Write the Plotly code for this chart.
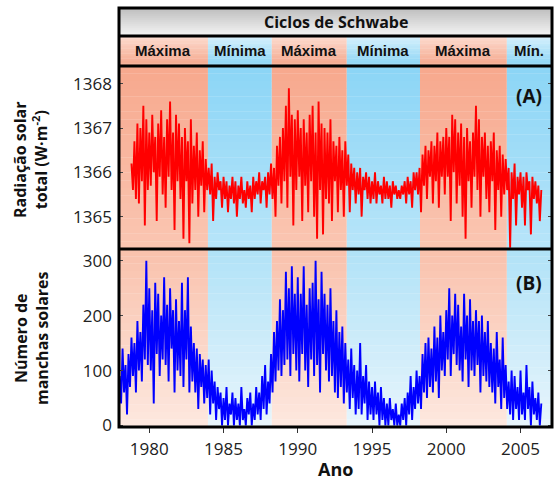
import numpy as np
import plotly.graph_objects as go

# ---------------- data ----------------
tsi_start, sun_start, step = 1978.8, 1978.0, 0.1

tsi = [
    1366.2, 1365.6,
    1366.7, 1365.4, 1367.1, 1365.3, 1367.0, 1365.8, 1367.5, 1364.8, 1367.2, 1365.6,
    1366.9, 1365.7, 1367.3, 1366.0, 1366.8, 1364.9, 1367.1, 1365.9, 1367.4, 1365.5,
    1366.8, 1365.2, 1367.2, 1365.9, 1367.6, 1365.6, 1366.9, 1364.7, 1367.3, 1365.8,
    1367.1, 1365.4, 1366.8, 1364.5, 1367.0, 1365.8, 1366.7, 1364.4, 1367.2, 1365.3,
    1366.6, 1365.6, 1366.9, 1365.0, 1366.5, 1365.7, 1366.7, 1365.1, 1366.3, 1365.6,
    1366.1, 1365.5, 1366.2, 1364.9, 1365.9, 1365.4, 1366.0, 1365.6, 1365.8, 1365.2,
    1365.9, 1365.4, 1365.8, 1365.1, 1365.7, 1365.4, 1365.9, 1365.3, 1365.8, 1365.0,
    1365.7, 1365.4, 1365.9, 1365.3, 1365.6, 1365.2, 1365.8, 1365.4, 1365.7, 1365.1,
    1365.9, 1365.4, 1365.8, 1365.5, 1366.0, 1365.3, 1365.8, 1365.6, 1365.9, 1365.2,
    1366.0, 1365.5, 1366.2, 1365.4, 1366.1, 1365.0, 1366.6, 1365.7, 1366.8, 1365.3,
    1367.0, 1365.8, 1367.5, 1365.2, 1367.9, 1365.9, 1367.3, 1364.8, 1367.2, 1365.6,
    1367.4, 1365.9, 1367.0, 1364.9, 1367.2, 1365.7, 1366.9, 1365.1, 1367.3, 1365.8,
    1367.5, 1365.0, 1366.9, 1364.5, 1367.6, 1365.6, 1367.1, 1364.6, 1367.0, 1365.4,
    1366.9, 1365.3, 1367.2, 1364.9, 1366.7, 1365.8, 1366.6, 1365.1, 1366.8, 1365.6,
    1366.5, 1365.0, 1366.7, 1365.7, 1366.4, 1365.1, 1366.2, 1365.6, 1366.1, 1365.3,
    1366.0, 1365.5, 1366.1, 1365.0, 1365.9, 1365.6, 1366.0, 1365.4, 1365.9, 1365.3,
    1365.8, 1365.4, 1366.0, 1365.3, 1365.8, 1365.5, 1365.7, 1365.3, 1365.9, 1365.4,
    1365.8, 1365.4, 1365.7, 1365.2, 1365.8, 1365.5, 1365.7, 1365.4, 1365.6, 1365.4,
    1365.7, 1365.5, 1365.8, 1365.3, 1365.9, 1365.5, 1365.8, 1365.2, 1366.0, 1365.6,
    1366.0, 1365.5, 1366.1, 1365.1, 1366.4, 1365.7, 1366.6, 1365.4, 1366.5, 1365.9,
    1366.7, 1365.3, 1366.6, 1365.8, 1366.9, 1365.2, 1366.7, 1365.9, 1366.8, 1365.5,
    1367.0, 1365.9, 1366.8, 1364.9, 1367.3, 1366.0, 1367.2, 1365.3, 1366.9, 1365.7,
    1367.1, 1365.0, 1366.8, 1364.5, 1367.0, 1365.8, 1366.7, 1365.2, 1366.9, 1365.9,
    1367.5, 1365.6, 1367.2, 1365.0, 1366.8, 1365.9, 1366.9, 1365.4, 1366.6, 1365.1,
    1366.7, 1365.8, 1366.9, 1364.7, 1366.5, 1365.6, 1366.6, 1365.0, 1366.4, 1365.5,
    1366.3, 1365.6, 1366.1, 1364.3, 1366.0, 1365.4, 1366.2, 1364.8, 1365.9, 1365.5,
    1366.0, 1365.2, 1365.9, 1364.8, 1366.0, 1365.6, 1365.8, 1364.6, 1365.9, 1365.4,
    1365.8, 1365.3, 1365.7, 1364.9, 1365.6,
]

sunspots = [
    90, 40, 140, 60, 110, 20, 130, 70, 160, 90,
    150, 60, 190, 100, 170, 80, 220, 120, 300, 110,
    250, 100, 210, 40, 260, 130, 240, 90, 200, 120,
    270, 110, 220, 80, 250, 140, 210, 60, 230, 100,
    190, 90, 260, 70, 210, 120, 270, 60, 180, 80,
    150, 60, 140, 30, 130, 70, 120, 40, 110, 50,
    120, 20, 100, 40, 80, 10, 70, 30, 60, 0,
    50, 10, 70, 0, 40, 20, 60, 0, 50, 10,
    40, 0, 70, 10, 30, 0, 50, 20, 60, 0,
    40, 10, 70, 20, 60, 10, 90, 30, 110, 20,
    80, 40, 130, 60, 170, 80, 190, 100, 230, 90,
    210, 110, 280, 120, 250, 90, 290, 130, 240, 100,
    270, 80, 240, 130, 290, 100, 220, 70, 250, 120,
    260, 90, 300, 110, 230, 60, 280, 130, 240, 100,
    220, 80, 250, 90, 190, 60, 210, 50, 170, 70,
    180, 40, 150, 60, 120, 30, 140, 50, 110, 20,
    100, 30, 150, 20, 90, 40, 110, 10, 80, 20,
    70, 10, 80, 20, 60, 0, 70, 10, 50, 0,
    40, 0, 50, 10, 30, 0, 40, 0, 20, 0,
    40, 10, 50, 0, 60, 20, 90, 10, 70, 30,
    100, 40, 90, 30, 130, 60, 150, 50, 160, 70,
    140, 60, 180, 80, 160, 50, 200, 100, 170, 90,
    210, 120, 250, 90, 200, 130, 240, 110, 220, 100,
    180, 80, 240, 120, 200, 70, 230, 100, 190, 90,
    210, 110, 190, 60, 200, 90, 170, 80, 190, 70,
    150, 60, 140, 40, 170, 70, 120, 30, 160, 50,
    110, 30, 80, 20, 100, 10, 90, 30, 70, 10,
    100, 20, 60, 10, 110, 30, 70, 0, 80, 20,
    50, 10, 60, 0, 40,
]

phase_edges = [1977.96, 1983.95, 1988.25, 1993.3, 1998.23, 2004.08, 2007.12]
phase_labels = ["Máxima", "Mínima", "Máxima", "Mínima", "Máxima", "Mín."]
phase_kind = ["max", "min", "max", "min", "max", "min"]

tsi_ticks = [1365, 1366, 1367, 1368]
sun_ticks = [0, 100, 200, 300]
year_ticks = [1980, 1985, 1990, 1995, 2000, 2005]

tsi_years = np.round(tsi_start + step * np.arange(len(tsi)), 2)
sun_years = np.round(sun_start + step * np.arange(len(sunspots)), 2)

# ---------------- layout geometry (pixels) ----------------
W, H = 557, 482
X_L, X_R = 119, 552
Y_HEAD, Y_LAB, Y_A, Y_MID, Y_B = 8, 36, 66, 249, 427


def pyp(y):
    return 1 - y / H


def pxp(x):
    return x / W


def hexrgb(h):
    h = h.lstrip("#")
    return [int(h[i:i + 2], 16) for i in (0, 2, 4)]


def mix(c1, c2, t):
    a, b = hexrgb(c1), hexrgb(c2)
    return "rgb(%d,%d,%d)" % tuple(round(a[i] + (b[i] - a[i]) * t) for i in range(3))


colors = {
    ("A", "max"): ("#F7A88D", "#FAC6B2"),
    ("A", "min"): ("#8BD5F6", "#B8E5F9"),
    ("B", "max"): ("#F9C1AC", "#FDE8DF"),
    ("B", "min"): ("#B0E2F7", "#E8F5FC"),
    ("L", "max"): ("#FDDDD1", "#F4A68B"),
    ("L", "min"): ("#D8F1FC", "#8AD4F5"),
}

shapes = []


def gradient(x0, x1, y0, y1, ctop, cbot, n, xref="x"):
    for i in range(n):
        ya = y0 + (y1 - y0) * i / n
        yb = y0 + (y1 - y0) * (i + 1) / n
        c = mix(ctop, cbot, (i + 0.5) / n)
        shapes.append(dict(type="rect", xref=xref, yref="paper", x0=x0, x1=x1,
                           y0=pyp(yb), y1=pyp(ya) + 0.0005, fillcolor=c,
                           line=dict(width=0), layer="below"))


for i, kind in enumerate(phase_kind):
    x0, x1 = phase_edges[i], phase_edges[i + 1]
    gradient(x0, x1, Y_A, Y_MID, *colors[("A", kind)], 24)
    gradient(x0, x1, Y_MID, Y_B, *colors[("B", kind)], 24)
    gradient(x0, x1, Y_LAB, Y_A, *colors[("L", kind)], 12)

gradient(pxp(X_L), pxp(X_R), Y_HEAD, Y_LAB, "#BDBDBD", "#F5F5F5", 14, xref="paper")

lw = 3
shapes.append(dict(type="rect", xref="paper", yref="paper", x0=pxp(X_L), x1=pxp(X_R),
                   y0=pyp(Y_B), y1=pyp(Y_HEAD), line=dict(color="black", width=lw),
                   fillcolor="rgba(0,0,0,0)", layer="above"))
for yy in (Y_LAB, Y_A, Y_MID):
    shapes.append(dict(type="line", xref="paper", yref="paper", x0=pxp(X_L), x1=pxp(X_R),
                       y0=pyp(yy), y1=pyp(yy), line=dict(color="black", width=lw),
                       layer="above"))

fig = go.Figure()
fig.add_trace(go.Scatter(x=tsi_years, y=tsi, mode="lines", xaxis="x", yaxis="y",
                         line=dict(color="#FF0000", width=1.9), showlegend=False))
fig.add_trace(go.Scatter(x=sun_years, y=sunspots, mode="lines", xaxis="x", yaxis="y2",
                         line=dict(color="#0000FF", width=1.9), showlegend=False))

tickfont = dict(family="Open Sans, Lato, sans-serif", size=17, color="#222")
bold = "Open Sans, Lato, sans-serif"

fig.update_layout(
    width=W, height=H, margin=dict(l=0, r=0, t=0, b=0, pad=0, autoexpand=False),
    paper_bgcolor="white", plot_bgcolor="rgba(0,0,0,0)",
    xaxis=dict(domain=[pxp(X_L), pxp(X_R)], range=[phase_edges[0], phase_edges[-1]],
               anchor="y2", tickvals=year_ticks, ticks="outside", ticklen=5,
               tickcolor="#333", tickwidth=1.2, showgrid=False, zeroline=False,
               showline=False, tickfont=tickfont, ticklabelstandoff=2, automargin=False),
    yaxis=dict(domain=[pyp(Y_MID), pyp(Y_A)], range=[1364.27, 1368.40],
               anchor="x", tickvals=tsi_ticks, ticks="inside", ticklen=4,
               tickcolor="#444", tickwidth=1.2, mirror="ticks", showgrid=False,
               zeroline=False, showline=False, tickfont=tickfont, ticklabelstandoff=6,
               automargin=False),
    yaxis2=dict(domain=[pyp(Y_B), pyp(Y_MID)], range=[-2.7, 321.3],
                anchor="x", tickvals=sun_ticks, ticks="inside", ticklen=4,
                tickcolor="#444", tickwidth=1.2, mirror="ticks", showgrid=False,
                zeroline=False, showline=False, tickfont=tickfont, ticklabelstandoff=6,
                automargin=False),
    shapes=shapes,
)


def note(text, x, y, size, family=bold, xref="paper", angle=0):
    return dict(text=text, xref=xref, yref="paper", x=x, y=y, xanchor="center",
                yanchor="middle", showarrow=False, textangle=angle,
                font=dict(family=family, size=size, color="#111"))


ann = [note("<b>Ciclos de Schwabe</b>", (pxp(X_L) + pxp(X_R)) / 2,
            pyp((Y_HEAD + Y_LAB) / 2), 16)]
for i, lab in enumerate(phase_labels):
    ann.append(note("<b>%s</b>" % lab, (phase_edges[i] + phase_edges[i + 1]) / 2,
                    pyp((Y_LAB + Y_A) / 2), 15,
                    family="Liberation Sans Narrow, Arial Narrow, sans-serif", xref="x"))
ann.append(note("<b>(A)</b>", pxp(529), pyp(96), 19))
ann.append(note("<b>(B)</b>", pxp(529), pyp(283), 19))
ann.append(note("<b>Radiação solar<br>total (W·m<sup>-2</sup>)</b>", pxp(31), pyp(160), 16,
                angle=-90))
ann.append(note("<b>Número de<br>manchas solares</b>", pxp(31), pyp(338), 16, angle=-90))
ann.append(note("<b>Ano</b>", pxp(335), pyp(469), 18))
fig.update_layout(annotations=ann)

fig.write_html("out.html")
